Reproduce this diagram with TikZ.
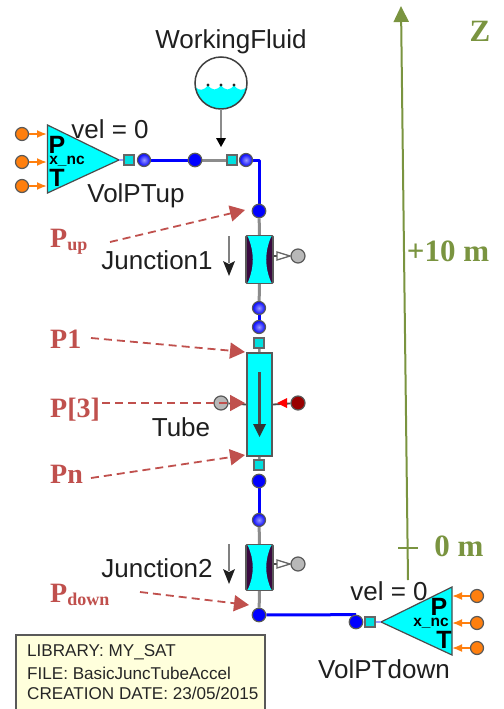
\documentclass[tikz,border=0pt]{standalone}
\usepackage{fontspec}
\setmainfont{Liberation Sans}
\newfontfamily\serifb{Liberation Serif}
\usetikzlibrary{arrows.meta,calc}
\pgfdeclarelayer{bg}
\pgfsetlayers{bg,main}
\definecolor{redlab}{HTML}{C0504D}
\definecolor{greenax}{HTML}{7A9440}
\definecolor{orangep}{HTML}{FF7F0E}
\definecolor{cyanp}{HTML}{00FFFF}
\definecolor{blueb}{HTML}{0000FF}
\definecolor{lightb}{HTML}{9A9AFF}
\definecolor{greyl}{HTML}{8C8C8C}
\definecolor{purplej}{HTML}{3A0A40}
\definecolor{noteb}{HTML}{FFFFDC}
\newcommand{\redsub}[1]{\raisebox{-3pt}{\fontsize{18}{20}\selectfont #1}}
\tikzset{
  x=1pt,y=-1pt,
  txt/.style={font=\fontsize{26}{28}\selectfont,text=black!88,inner sep=0,anchor=center},
  notet/.style={anchor=west,inner sep=0,font=\fontsize{17.1}{19}\selectfont,text=black!85},
  bigpt/.style={font=\fontsize{25}{26}\bfseries\selectfont,inner sep=0},
  xnct/.style={font=\fontsize{15.5}{16}\bfseries\selectfont,inner sep=0},
  redt/.style={font=\serifb\fontsize{28}{30}\bfseries\selectfont,text=redlab,inner sep=0,anchor=west},
  greent/.style={font=\serifb\fontsize{31}{33}\bfseries\selectfont,text=greenax,inner sep=0,anchor=center},
  dot/.style={circle,draw=black!65,line width=1.2pt,minimum size=#1,inner sep=0},
  bluedot/.style={dot=13.5pt,fill=blueb},
  lightdot/.style={dot=13pt,inner color=lightb,outer color=blueb},
  orangedot/.style={dot=13pt,fill=orangep},
  greydot/.style={dot=14pt,fill=black!28},
  port/.style={rectangle,draw=black!60,line width=1.1pt,fill=cyanp!88!black,minimum size=10pt,inner sep=0},
  bluew/.style={blueb,line width=3pt},
  greyw/.style={greyl,line width=3pt},
  redarrow/.style={redlab,line width=1.8pt,dash pattern=on 8pt off 5pt,-{Triangle[length=15pt,width=16pt]}},
  orarrow/.style={orangep,line width=1.8pt,-{Latex[length=10pt,width=8pt]}},
  box/.style={draw=black!65,line width=1.8pt},
  axline/.style={greenax,line width=2pt},
}
\begin{document}
\begin{tikzpicture}
\useasboundingbox (0,0) rectangle (503,709);
\begin{pgfonlayer}{bg}
\fill[white] (0,0) rectangle (503,709);
\end{pgfonlayer}

% green axis
\coordinate (axb) at (408,580);
\coordinate (axt) at (401,6);
\draw[axline,-{Triangle[length=16pt,width=15pt]}] (axb) -- (axt);
\coordinate (tl) at (398,548); \coordinate (tr) at (418,548);
\draw[axline] (tl) -- (tr);
\node[greent] (lz) at (480,31) {Z};
\node[greent] (l10) at (448,251) {+10 m};
\node[greent] (l0) at (459,546) {0 m};

% connection points
\coordinate (corner) at (259,160);
\node[bluedot] (j0) at (259,211) {};
\node[lightdot] (a2) at (144,160) {};
\node[bluedot] (b1) at (195,160) {};
\node[lightdot] (a3) at (246,160) {};
\node[port] (p1) at (129,160) {};
\node[port] (p2) at (232,160) {};
\node[lightdot] (c1) at (259,308) {};
\node[lightdot] (c2) at (259,327) {};
\node[port] (p3) at (259,343) {};
\node[port] (p4) at (259,465) {};
\node[bluedot] (d1) at (259,481) {};
\node[lightdot] (d2) at (259,520) {};
\node[bluedot] (j3) at (259,615) {};
\node[bluedot] (e1) at (356,622) {};
\node[port] (p5) at (370,622) {};

\begin{pgfonlayer}{bg}
\draw[bluew] (a2) -- (b1);
\draw[greyw] (b1) -- (p2);
\draw[bluew,line join=round] (a3) -- (corner) -- (j0);
\draw[bluew] (c1) -- (c2);
\draw[bluew] (d1) -- (d2);
\draw[bluew] (j3) -- (e1.north);
\end{pgfonlayer}

% working fluid
\node[circle,minimum size=52pt,inner sep=0] (wf) at (221,83) {};
\fill[cyanp] (246.7,87) arc[start angle=9,end angle=171,radius=26]
  .. controls (199,91) and (204,91) .. (208,85)
  .. controls (212,91) and (217,91) .. (221,85)
  .. controls (225,91) and (230,91) .. (234,85)
  .. controls (238,91) and (243,91) .. (246.7,87) -- cycle;
\draw[black!75,line width=1.5pt] (221,83) circle[radius=26];
\fill[black!85] (208,85) circle[radius=1.6] (221,85) circle[radius=1.6] (234,85) circle[radius=1.6];
\node[txt] (wft) at (231,42) {WorkingFluid};
\coordinate (wfin) at (221,139);
\draw[greyl,line width=2.5pt] (wf.south) -- (wfin);
\fill[black] (216,138) -- (226,138) -- (221,147) -- cycle;

% VolPTup
\coordinate (t1a) at (47.5,125); \coordinate (t1b) at (47.5,193); \coordinate (t1c) at (119,160);
\filldraw[fill=cyanp,draw=black!70,line width=1.2pt] (t1a) -- (t1c) -- (t1b) -- cycle;
\draw[lightb,line width=2pt] (t1c) -- (p1);
\node[orangedot] (o1) at (22,134) {};
\node[orangedot] (o2) at (22,162) {};
\node[orangedot] (o3) at (22,186) {};
\coordinate (i1) at (47,134); \coordinate (i2) at (47,162); \coordinate (i3) at (47,186);
\draw[orarrow] (o1) -- (i1);
\draw[orarrow] (o2) -- (i2);
\draw[orarrow] (o3) -- (i3);
\node[bigpt] (tp1) at (57,145) {P};
\node[xnct] (tx1) at (67,161) {x\_nc};
\node[bigpt] (tt1) at (57,178) {T};
\node[txt] (v1) at (110,129) {vel = 0};
\node[txt] (vup) at (136,196) {VolPTup};

% junctions
\newcommand{\junc}[3]{%
  \node[box,fill=purplej,minimum width=27pt,minimum height=#3,inner sep=0,rounded corners=1pt] (#1) at (259.5,#2) {};
  \fill[cyanp] ($(#1.north west)+(2.5,1)$) .. controls ($(#1.center)+(-5,-8)$) and ($(#1.center)+(-5,8)$) .. ($(#1.south west)+(2.5,-1)$)
     -- ($(#1.south east)+(-2.5,-1)$) .. controls ($(#1.center)+(5,8)$) and ($(#1.center)+(5,-8)$) .. ($(#1.north east)+(-2.5,1)$) -- cycle;
}
\junc{J1}{259.5}{47pt}
\junc{J2}{567.5}{45pt}
\begin{pgfonlayer}{bg}
\draw[greyw] (j0) -- (J1.north);
\draw[greyw] (J1.south) -- (c1);
\draw[greyw] (j3) -- (J2.south);
\draw[greyw] (d2) -- (J2.north);
\end{pgfonlayer}

\newcommand{\heatport}[3]{%
  \node[greydot] (#1) at (298,#2) {};
  \draw[black!70,line width=1.5pt] (#3.east|-#1) -- (277,#2);
  \filldraw[fill=white,draw=black!60,line width=1.3pt] (277,#2-4) -- (290,#2) -- (277,#2+4) -- cycle;
}
\heatport{h1}{256}{J1}
\heatport{h2}{564}{J2}

% flow arrows
\newcommand{\flowar}[1]{%
  \draw[black!50,line width=2.4pt] (229,#1) -- (229,#1+27);
  \fill[black!88] (223,#1+25) -- (229,#1+28) -- (235,#1+25) -- (229,#1+40) -- cycle;
}
\flowar{236}
\flowar{544}

% Tube
\node[box,fill=cyanp,minimum width=25pt,minimum height=103pt,inner sep=0] (tube) at (259.5,404.5) {};
\begin{pgfonlayer}{bg}
\draw[greyl,line width=2.5pt] (p3) -- (tube.north);
\draw[greyl,line width=2.5pt] (tube.south) -- (p4);
\end{pgfonlayer}
\draw[black!70,line width=2.4pt] (259.5,372) -- (259.5,425);
\fill[black!80] (253,424) -- (266,424) -- (259.5,437) -- cycle;
\node[greydot] (h3) at (221,403) {};
\node[dot=14pt,fill=red!60!black] (h4) at (298,403) {};
\draw[black!70,line width=1.8pt] (h3) -- (tube.west);
\draw[black!70,line width=1.8pt] (h4) -- (tube.east);
\fill[red] (287,398) -- (287,408) -- (277,403) -- cycle;
\node[txt] (tubet) at (181,427) {Tube};

% labels
\node[txt] (j1t) at (157,260) {Junction1};
\node[txt] (j2t) at (157,568) {Junction2};

% VolPTdown
\coordinate (t2a) at (452,587); \coordinate (t2b) at (452,655); \coordinate (t2c) at (381,622);
\filldraw[fill=cyanp,draw=black!70,line width=1.2pt] (t2a) -- (t2c) -- (t2b) -- cycle;
\draw[lightb,line width=2pt] (p5) -- (t2c);
\node[orangedot] (o4) at (477,596) {};
\node[orangedot] (o5) at (477,623) {};
\node[orangedot] (o6) at (477,648) {};
\coordinate (i4) at (452,596); \coordinate (i5) at (452,623); \coordinate (i6) at (452,648);
\draw[orarrow] (o4) -- (i4);
\draw[orarrow] (o5) -- (i5);
\draw[orarrow] (o6) -- (i6);
\node[bigpt] (tp2) at (439,607) {P};
\node[xnct] (tx2) at (431,623) {x\_nc};
\node[bigpt] (tt2) at (444,640) {T};
\node[txt] (v2) at (389,591) {vel = 0};
\node[txt] (vdn) at (384,669) {VolPTdown};

% red labels
\node[redt,anchor=base west] (pup) at (50,247) {P\redsub{up}};
\node[redt,anchor=base west] (pa) at (50,348) {P1};
\node[redt,anchor=base west] (pb) at (50,417) {P[3]};
\node[redt,anchor=base west] (pc) at (50,483) {Pn};
\node[redt,anchor=base west] (pd) at (50,602) {P\redsub{down}};
\coordinate (ra1) at (110,242); \coordinate (ra2) at (245,210);
\coordinate (rb1) at (91,338); \coordinate (rb2) at (245,352);
\coordinate (rc1) at (102,403); \coordinate (rc2) at (245,403);
\coordinate (rd1) at (91,478); \coordinate (rd2) at (245,455);
\coordinate (re1) at (140,592); \coordinate (re2) at (249,605);
\draw[redarrow] (ra1) -- (ra2);
\draw[redarrow] (rb1) -- (rb2);
\draw[redarrow] (rc1) -- (rc2);
\draw[redarrow] (rd1) -- (rd2);
\draw[redarrow] (re1) -- (re2);

% note
\filldraw[fill=noteb,draw=black!65,line width=1.8pt] (16,635) rectangle (265,715);
\node[notet] (n1) at (27,652) {LIBRARY: MY\_SAT};
\node[notet] (n2) at (27,673) {FILE: BasicJuncTubeAccel};
\node[notet] (n3) at (27,693) {CREATION DATE: 23/05/2015};
\end{tikzpicture}
\end{document}
